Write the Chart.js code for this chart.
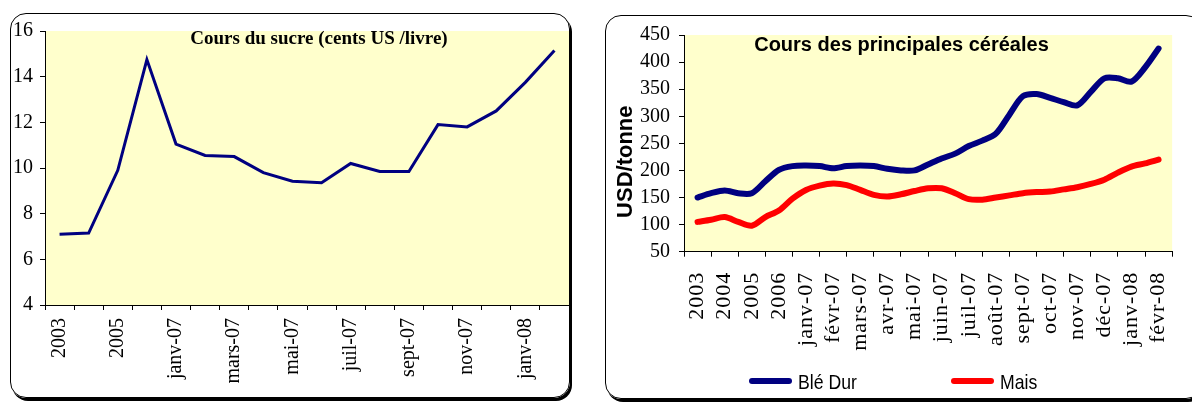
<!DOCTYPE html>
<html>
<head>
<meta charset="utf-8">
<script src="https://cdn.jsdelivr.net/npm/chart.js@4.4.1/dist/chart.umd.min.js"></script>
<style>
html, body { margin: 0; padding: 0; background: #fff; overflow: hidden; width: 1192px; height: 403px; }
canvas { position: absolute; top: 0; }
#sugar { left: 0; }
#cereals { left: 600px; }
.frame { position: absolute; border: 1.5px solid #000; border-radius: 16px; box-shadow: 2px 3px 0 #000; pointer-events: none; }
</style>
</head>
<body>
<canvas id="sugar" width="600" height="403"></canvas>
<canvas id="cereals" width="600" height="403"></canvas>
<div class="frame" style="left:10px;top:13px;width:557.5px;height:382.5px"></div>
<div class="frame" style="left:605px;top:15px;width:595px;height:381.5px"></div>
<script>
// categories (same 18 periods on both charts)
const periods = ['2003', '2004', '2005', '2006', 'janv-07', 'févr-07', 'mars-07', 'avr-07',
    'mai-07', 'juin-07', 'juil-07', 'août-07', 'sept-07', 'oct-07', 'nov-07', 'déc-07',
    'janv-08', 'févr-08'];

// sugar, cents US / livre, one value per period
const sucre = [7.1, 7.15, 9.9, 14.75, 11.05, 10.55, 10.5, 9.8, 9.42, 9.35,
    10.2, 9.85, 9.85, 11.9, 11.8, 12.5, 13.75, 15.15];

// cereals, USD/tonne, read every half period
const cerealStep = 0.5;
const bleDur = [150, 158, 163, 158, 158, 180, 201, 208, 209, 208, 204, 208, 209, 208, 203, 200, 200, 211,
    222, 231, 245, 255, 268, 303, 337, 341, 334, 326, 320, 345, 370, 370, 364, 390, 425];
const mais = [105, 109, 114, 105, 98, 114, 126, 148, 164, 172, 176, 173, 164, 155, 152, 156, 162, 167,
    167, 158, 147, 146, 150, 154, 158, 160, 161, 165, 169, 175, 183, 196, 207, 213, 220];

const sucreTicks = [4, 16, 2];
const cerealTicks = [50, 450, 50];

const serif = '"Liberation Serif", "Times New Roman", serif';
const sans = '"Liberation Sans", Arial, sans-serif';

Chart.defaults.color = '#000';

const plotBg = {
    id: 'plotBg',
    beforeDraw(chart, args, opts) {
        const { ctx, chartArea: a } = chart;
        ctx.save();
        ctx.fillStyle = opts.color;
        ctx.fillRect(a.left, a.top, a.right - a.left, a.bottom - a.top);
        ctx.restore();
    }
};

// x tick labels are drawn after the datasets (ticks.z = 1), with a little letter spacing
const tickSpacing = {
    id: 'tickSpacing',
    afterDatasetsDraw(chart, args, opts) {
        chart.ctx.letterSpacing = opts.spacing || '0px';
    },
    afterDraw(chart) {
        chart.ctx.letterSpacing = '0px';
    }
};

const texts = {
    id: 'texts',
    afterDraw(chart, args, opts) {
        const ctx = chart.ctx;
        (opts.items || []).forEach(t => {
            ctx.save();
            ctx.font = t.font;
            ctx.fillStyle = '#000';
            ctx.textAlign = 'center';
            ctx.textBaseline = 'alphabetic';
            ctx.translate(t.x, t.y);
            if (t.rotate) ctx.rotate(t.rotate);
            ctx.fillText(t.text, 0, 0);
            ctx.restore();
        });
    }
};

const lineLegend = {
    id: 'lineLegend',
    afterDraw(chart, args, opts) {
        const ctx = chart.ctx;
        chart.data.datasets.forEach((ds, i) => {
            const x = opts.x[i];
            ctx.save();
            ctx.strokeStyle = ds.borderColor;
            ctx.lineWidth = ds.borderWidth;
            ctx.lineCap = 'round';
            ctx.beginPath();
            ctx.moveTo(x + 3, opts.y);
            ctx.lineTo(x + opts.sample - 3, opts.y);
            ctx.stroke();
            ctx.font = opts.font;
            ctx.fillStyle = '#000';
            ctx.textBaseline = 'alphabetic';
            ctx.translate(x + opts.sample + opts.gap, opts.textY);
            ctx.scale(opts.narrow, 1);
            ctx.fillText(ds.label, 0, 0);
            ctx.restore();
        });
    }
};

const axisLine = { color: '#000', width: 1 };

(function sugar_chart()
{
    new Chart(document.getElementById('sugar'), {
        type: 'line',
        data: {
            labels: periods,
            datasets: [{
                label: 'Sucre',
                data: sucre,
                borderColor: '#000080',
                borderWidth: 3,
                pointRadius: 0,
                tension: 0,
                fill: false
            }]
        },
        options: {
            responsive: false,
            animation: false,
            layout: { padding: { left: 0, right: 31, top: 31, bottom: 0 } },
            plugins: {
                legend: { display: false },
                tooltip: { enabled: false },
                plotBg: { color: '#FFFFCC' },
                texts: { items: [
                    { text: 'Cours du sucre (cents US /livre)', x: 319, y: 44, font: 'bold 19px ' + serif }
                ] }
            },
            scales: {
                x: {
                    offset: true,
                    afterFit: s => { s.height = 98; },
                    grid: { offset: true, drawOnChartArea: false, tickLength: 5, color: '#000' },
                    border: axisLine,
                    ticks: {
                        autoSkip: false,
                        minRotation: 90,
                        maxRotation: 90,
                        padding: 8,
                        font: { family: serif, size: 20 },
                        callback: (v, i) => i % 2 === 0 ? periods[i] : ''
                    }
                },
                y: {
                    min: sucreTicks[0],
                    max: sucreTicks[1],
                    afterFit: s => { s.width = 45; },
                    grid: { drawOnChartArea: false, tickLength: 5, color: '#000' },
                    border: axisLine,
                    ticks: { stepSize: sucreTicks[2], padding: 7, font: { family: serif, size: 20 } }
                }
            }
        },
        plugins: [plotBg, texts]
    });
})();

(function cereal_chart()
{
    new Chart(document.getElementById('cereals'), {
        type: 'line',
        data: {
            datasets: [{
                label: 'Blé Dur',
                data: bleDur.map((v, i) => ({ x: i * cerealStep, y: v })),
                borderColor: '#000080',
                borderWidth: 6,
                borderCapStyle: 'round',
                borderJoinStyle: 'round',
                pointRadius: 0,
                tension: 0.3,
                fill: false
            }, {
                label: 'Mais',
                data: mais.map((v, i) => ({ x: i * cerealStep, y: v })),
                borderColor: '#FF0000',
                borderWidth: 6,
                borderCapStyle: 'round',
                borderJoinStyle: 'round',
                pointRadius: 0,
                tension: 0.3,
                fill: false
            }]
        },
        options: {
            responsive: false,
            animation: false,
            layout: { padding: { left: 0, right: 1, top: 35, bottom: 0 } },
            plugins: {
                legend: { display: false },
                tooltip: { enabled: false },
                plotBg: { color: '#FFFFCC' },
                tickSpacing: { spacing: '1px' },
                texts: { items: [
                    { text: 'Cours des principales céréales', x: 301.5, y: 50.5, font: 'bold 20px ' + sans },
                    { text: 'USD/tonne', x: 32, y: 161.7, rotate: -Math.PI / 2, font: 'bold 22px ' + sans }
                ] },
                lineLegend: { x: [149, 351], y: 381, textY: 388.5, sample: 43, gap: 6, narrow: 0.84, font: '21px ' + sans }
            },
            scales: {
                x: {
                    type: 'linear',
                    min: -0.5,
                    max: periods.length - 0.5,
                    afterBuildTicks: s => { s.ticks = periods.map((p, i) => ({ value: i })); },
                    afterFit: s => { s.height = 151.3; },
                    grid: { offset: true, drawOnChartArea: false, tickLength: 5, color: '#000' },
                    border: axisLine,
                    ticks: {
                        z: 1,
                        autoSkip: false,
                        minRotation: 90,
                        maxRotation: 90,
                        padding: 15,
                        font: { family: serif, size: 22 },
                        callback: v => periods[v]
                    }
                },
                y: {
                    min: cerealTicks[0],
                    max: cerealTicks[1],
                    afterFit: s => { s.width = 84; },
                    grid: { drawOnChartArea: false, tickLength: 5, color: '#000' },
                    border: axisLine,
                    ticks: { stepSize: cerealTicks[2], padding: 9, font: { family: serif, size: 20 } }
                }
            }
        },
        plugins: [plotBg, tickSpacing, texts, lineLegend]
    });
})();
</script>
</body>
</html>
